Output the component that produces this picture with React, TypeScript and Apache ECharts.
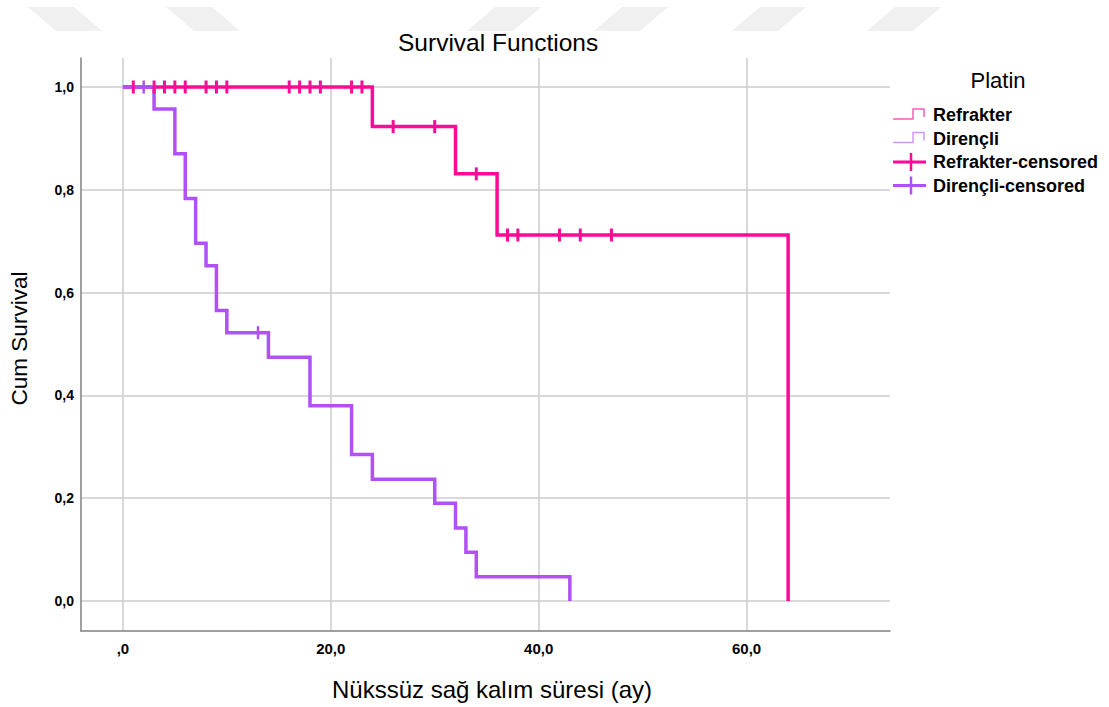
import React, { useEffect, useRef } from "react";
import * as echarts from "echarts";

// ---- Data ----
const groups = ["Refrakter", "Dirençli"];
const legendNames = ["Refrakter", "Dirençli", "Refrakter-censored", "Dirençli-censored"];

const refTimes = [0, 24, 32, 36, 64];
const refSurv = [1, 0.923, 0.831, 0.712, 0];
const refCensorTimes = [1, 3, 4, 5, 6, 8, 9, 10, 16, 17, 18, 19, 22, 23, 26, 30, 34, 37, 38, 42, 44, 47];
const refCensorSurv = [1, 1, 1, 1, 1, 1, 1, 1, 1, 1, 1, 1, 1, 1, 0.923, 0.923, 0.831, 0.712, 0.712, 0.712, 0.712, 0.712];

const dirTimes = [0, 3, 5, 6, 7, 8, 9, 10, 14, 18, 22, 24, 30, 32, 33, 34, 43];
const dirSurv = [1, 0.957, 0.87, 0.783, 0.696, 0.652, 0.565, 0.522, 0.474, 0.38, 0.285, 0.237, 0.19, 0.142, 0.095, 0.047, 0];
const dirCensorTimes = [2, 13];
const dirCensorSurv = [1, 0.522];

const xTicks = [0, 20, 40, 60];
const xTickLabels = [",0", "20,0", "40,0", "60,0"];
const yTicks = [0, 0.2, 0.4, 0.6, 0.8, 1.0];
const yTickLabels = ["0,0", "0,2", "0,4", "0,6", "0,8", "1,0"];

const titleText = "Survival Functions";
const xName = "Nükssüz sağ kalım süresi (ay)";
const yName = "Cum Survival";
const legendTitle = "Platin";

// ---- Styles ----
const FONT = "'Liberation Sans', Arial, sans-serif";
const PINK = "#ff0a96";
const PURPLE = "#b050f5";
const PINK_LIGHT = "#ff5ab8";
const PURPLE_LIGHT = "#cf98f7";

const zip = (a: number[], b: number[]) => a.map((v, i) => [v, b[i]]);
const lookup = (ticks: number[], labels: string[]) => (v: number) => {
  const i = ticks.findIndex((t) => Math.abs(t - v) < 1e-6);
  return i >= 0 ? labels[i] : "";
};

const watermark = [
  [[28, 7], [74, 7], [102, 31], [56, 31]],
  [[166, 7], [212, 7], [240, 31], [194, 31]],
  [[495, 7], [541, 7], [513, 31], [467, 31]],
  [[622, 7], [668, 7], [640, 31], [594, 31]],
  [[760, 7], [806, 7], [778, 31], [732, 31]],
  [[895, 7], [941, 7], [913, 31], [867, 31]],
];

export default function App() {
  const ref = useRef<HTMLDivElement>(null);
  useEffect(() => {
    if (!ref.current) return;
    const chart = echarts.init(ref.current, undefined, { renderer: "svg" });
    const legendY = [115, 138.5, 162, 185.5];
    const legendGraphics: any[] = [];
    legendGraphics.push({
      type: "text",
      x: 998,
      y: 80,
      style: {
        text: legendTitle,
        fill: "#000",
        fontSize: 22,
        fontFamily: FONT,
        align: "center",
        verticalAlign: "middle",
        textAlign: "center",
        textVerticalAlign: "middle",
      },
    });
    // step icons
    [0, 1].forEach((i) => {
      const y = legendY[i];
      legendGraphics.push({
        type: "polyline",
        shape: { points: [[893, y + 4], [913, y + 4], [913, y - 6], [924, y - 6], [924, y + 2]] },
        style: { stroke: i === 0 ? PINK_LIGHT : PURPLE_LIGHT, lineWidth: 1.5, fill: null },
      });
    });
    // censored icons
    [2, 3].forEach((i) => {
      const y = legendY[i];
      const c = i === 2 ? PINK : PURPLE;
      legendGraphics.push({
        type: "line",
        shape: { x1: 893, y1: y, x2: 926, y2: y },
        style: { stroke: c, lineWidth: 3 },
      });
      legendGraphics.push({
        type: "line",
        shape: { x1: 911, y1: y - 9, x2: 911, y2: y + 9 },
        style: { stroke: c, lineWidth: 2.5 },
      });
    });
    legendNames.forEach((n, i) => {
      legendGraphics.push({
        type: "text",
        x: 933,
        y: legendY[i],
        style: {
          text: n,
          fill: "#000",
          fontSize: 18,
          fontWeight: "bold",
          fontFamily: FONT,
          align: "left",
          verticalAlign: "middle",
          textAlign: "left",
          textVerticalAlign: "middle",
        },
      });
    });

    const option: any = {
      animation: false,
      backgroundColor: "#ffffff",
      title: {
        text: titleText,
        left: 393,
        top: 25,
        textStyle: { fontSize: 24.5, fontWeight: "normal", fontFamily: FONT, color: "#000" },
      },
      graphic: [
        ...watermark.map((pts) => ({
          type: "polygon",
          z: -10,
          shape: { points: pts },
          style: { fill: "#f0f0f0" },
        })),
        ...legendGraphics,
      ],
      grid: { left: 79, right: 219, top: 58, bottom: 76, containLabel: false },
      xAxis: {
        type: "value",
        min: -4.03,
        max: 73.8,
        name: xName,
        nameLocation: "middle",
        nameGap: 46,
        nameTextStyle: { fontSize: 24, fontFamily: FONT, color: "#000", padding: [0, 0, 0, 13] },
        axisLine: { show: true, onZero: false, lineStyle: { color: "#808080", width: 1.5 } },
        axisTick: { show: false, customValues: xTicks },
        axisLabel: {
          customValues: xTicks,
          formatter: lookup(xTicks, xTickLabels),
          fontSize: 15,
          fontWeight: "bold",
          fontFamily: FONT,
          color: "#000",
          margin: 10,
        },
        splitLine: { show: true, lineStyle: { color: "#cccccc", width: 1.5 } },
      },
      yAxis: {
        type: "value",
        min: -0.0584,
        max: 1.0564,
        name: yName,
        nameLocation: "middle",
        nameGap: 50,
        nameTextStyle: { fontSize: 22.5, fontFamily: FONT, color: "#000", padding: [0, 0, 0, 12] },
        axisLine: { show: true, onZero: false, lineStyle: { color: "#808080", width: 1.5 } },
        axisTick: { show: false, customValues: yTicks },
        axisLabel: {
          customValues: yTicks,
          formatter: lookup(yTicks, yTickLabels),
          fontSize: 14,
          fontWeight: "bold",
          fontFamily: FONT,
          color: "#000",
          margin: 7,
        },
        splitLine: { show: true, lineStyle: { color: "#cccccc", width: 1.5 } },
      },
      series: [
        {
          name: groups[0],
          type: "line",
          step: "end",
          data: zip(refTimes, refSurv),
          showSymbol: false,
          lineStyle: { color: PINK, width: 3.5, join: "miter", cap: "butt" },
          itemStyle: { color: PINK },
          z: 2,
          silent: true,
        },
        {
          name: groups[1],
          type: "line",
          step: "end",
          data: zip(dirTimes, dirSurv),
          showSymbol: false,
          lineStyle: { color: PURPLE, width: 3.5, join: "miter", cap: "butt" },
          itemStyle: { color: PURPLE },
          z: 3,
          silent: true,
        },
        {
          name: legendNames[2],
          type: "scatter",
          data: zip(refCensorTimes, refCensorSurv),
          symbol: "rect",
          symbolSize: [3, 13],
          itemStyle: { color: PINK, opacity: 1 },
          z: 4,
          silent: true,
        },
        {
          name: legendNames[3],
          type: "scatter",
          data: zip(dirCensorTimes, dirCensorSurv),
          symbol: "rect",
          symbolSize: [2.5, 13],
          itemStyle: { color: PURPLE, opacity: 1 },
          z: 5,
          silent: true,
        },
      ],
    };
    chart.setOption(option);
    return () => chart.dispose();
  }, []);
  return (
    <div
      ref={ref}
      style={{ position: "fixed", left: 0, top: 0, width: 1109, height: 707, background: "#fff" }}
    />
  );
}
